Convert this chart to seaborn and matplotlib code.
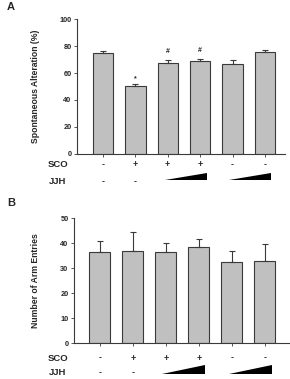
import numpy as np
import pandas as pd
import matplotlib
matplotlib.use("Agg")
import matplotlib.pyplot as plt
import seaborn as sns

# groups (6 treatment conditions)
groups = ["g1", "g2", "g3", "g4", "g5", "g6"]
sco_signs = ["-", "+", "+", "+", "-", "-"]
jjh_signs = ["-", "-", "low", "high", "low", "high"]

# panel A: spontaneous alteration (%)
alt_mean = [74.7, 50.6, 67.7, 69.2, 66.5, 75.4]
alt_sem = [1.5, 1.5, 2.0, 1.5, 3.2, 1.8]
alt_marks = ["", "*", "#", "#", "", ""]

# panel B: number of arm entries
arm_mean = [36.6, 37.1, 36.7, 38.7, 32.6, 33.1]
arm_sem = [4.5, 7.6, 3.5, 3.0, 4.5, 6.6]

sns.set_style("white")
plt.rcParams["font.family"] = ["Liberation Sans", "DejaVu Sans"]
NARROW = ["Liberation Sans Narrow", "Liberation Sans", "DejaVu Sans"]

BAR = "#c0c0c0"
EDGE = "#3a3a3a"

fig = plt.figure(figsize=(2.9, 3.79), dpi=100)
axA = fig.add_axes([0.2655, 0.5945, 0.7175, 0.3545])
axB = fig.add_axes([0.255, 0.0937, 0.7416, 0.3303])


def draw_panel(ax, mean, sem, ylim, yticks, ylabel, xlim, lab_y, lab_x, ramp_y):
    df = pd.DataFrame({"group": groups, "value": mean})
    sns.barplot(data=df, x="group", y="value", ax=ax, color=BAR,
                edgecolor=EDGE, linewidth=0.8, width=0.63, errorbar=None,
                saturation=1)
    x = np.arange(len(groups))
    ax.errorbar(x, mean, yerr=[np.zeros(len(sem)), sem], fmt="none",
                ecolor=EDGE, elinewidth=0.8, capsize=2.2, capthick=0.8)
    ax.set_ylim(*ylim)
    ax.set_xlim(*xlim)
    ax.set_yticks(yticks)
    ax.set_yticklabels([str(t) for t in yticks], fontsize=5.3, fontweight="bold")
    ax.set_xticks(x)
    ax.set_xticklabels([])
    ax.set_xlabel("")
    ax.set_ylabel(ylabel, fontsize=6.2, family=NARROW, fontweight="bold")
    ax.tick_params(axis="both", direction="out", length=2, width=0.6,
                   color=EDGE, pad=2, left=True, bottom=True)
    for s in ("top", "right"):
        ax.spines[s].set_visible(False)
    for s in ("left", "bottom"):
        ax.spines[s].set_color(EDGE)
        ax.spines[s].set_linewidth(0.8)

    tr = ax.get_xaxis_transform()
    ax.text(lab_x, lab_y[0], "SCO", transform=ax.transAxes, ha="center",
            va="center", fontsize=6.8, fontweight="bold")
    ax.text(lab_x, lab_y[1], "JJH", transform=ax.transAxes, ha="center",
            va="center", fontsize=6.8, fontweight="bold")
    for i, s in enumerate(sco_signs):
        ax.text(i, lab_y[0], s, transform=tr, ha="center", va="center",
                fontsize=6.5, fontweight="bold", clip_on=False)
    for i, s in enumerate(jjh_signs):
        if s == "-":
            ax.text(i, lab_y[1], s, transform=tr, ha="center", va="center",
                    fontsize=6.5, fontweight="bold", clip_on=False)
        elif s == "low":
            x0, x1 = i - 0.1, i + 1.2
            ax.fill([x0, x1, x1], [ramp_y[0], ramp_y[0], ramp_y[1]],
                    color="black", transform=tr, clip_on=False, lw=0)


draw_panel(axA, alt_mean, alt_sem, (0, 100), [0, 20, 40, 60, 80, 100],
           "Spontaneous Alteration (%)", (-0.8, 5.62), (-0.084, -0.208),
           -0.091, (-0.198, -0.146))
for i, m in enumerate(alt_marks):
    if m:
        axA.text(i, alt_mean[i] + alt_sem[i] + 3.5, m, ha="center",
                 va="bottom" if m == "#" else "center", fontsize=5,
                 fontweight="bold")
axA.yaxis.set_label_coords(-0.178, 0.5)

draw_panel(axB, arm_mean, arm_sem, (0, 50), [0, 10, 20, 30, 40, 50],
           "Number of Arm Entries", (-0.78, 5.73), (-0.116, -0.234),
           -0.074, (-0.244, -0.172))
axB.yaxis.set_label_coords(-0.158, 0.5)

fig.text(0.022, 0.982, "A", fontsize=8, fontweight="bold", va="center")
fig.text(0.024, 0.465, "B", fontsize=8, fontweight="bold", va="center")

fig.savefig("out.png", dpi=100)
